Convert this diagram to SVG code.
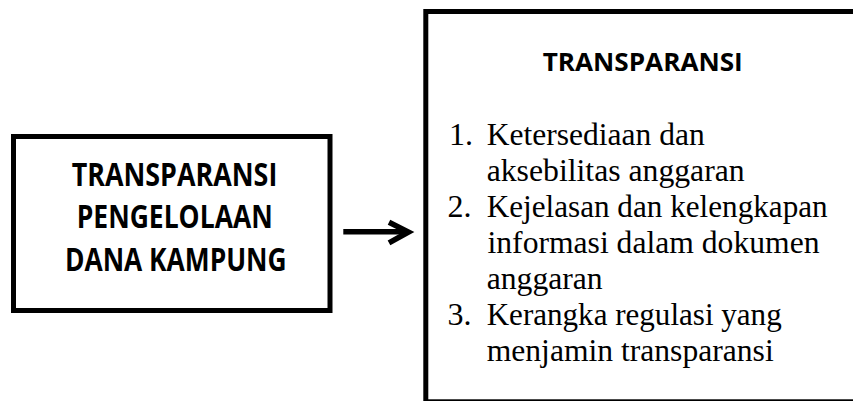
<svg xmlns="http://www.w3.org/2000/svg" width="853" height="401" viewBox="0 0 853 401">
<style>
.box{fill:#fff;stroke:#000;stroke-width:5}
.bold{font-family:"Open Sans","Liberation Sans",sans-serif;font-weight:bold;fill:#000}
.serif{font-family:"Liberation Serif","Times New Roman",serif;font-size:32px;fill:#000}
.conn{fill:none;stroke:#000;stroke-width:5.5}
</style>
<rect width="853" height="401" fill="#fff"/>
<g id="node-left">
<rect class="box" x="13.5" y="136.5" width="316.5" height="174"/>
<text class="bold" font-size="33" x="174.5" y="186" text-anchor="middle" textLength="205.6" lengthAdjust="spacingAndGlyphs">TRANSPARANSI</text>
<text class="bold" font-size="33" x="174.7" y="228.3" text-anchor="middle" textLength="196" lengthAdjust="spacingAndGlyphs">PENGELOLAAN</text>
<text class="bold" font-size="33" x="175.8" y="270.6" text-anchor="middle" textLength="221.7" lengthAdjust="spacingAndGlyphs">DANA KAMPUNG</text>
</g>
<g id="node-right">
<rect class="box" x="425.8" y="11.5" width="440" height="390.3"/>
<text class="bold" font-size="24.5" x="642.7" y="70.7" text-anchor="middle" textLength="200" lengthAdjust="spacingAndGlyphs">TRANSPARANSI</text>
<text class="serif" x="449" y="144.5">1.</text>
<text class="serif" x="486.7" y="144.5" textLength="218" lengthAdjust="spacingAndGlyphs">Ketersediaan dan</text>
<text class="serif" x="486.7" y="180.6" textLength="258" lengthAdjust="spacingAndGlyphs">aksebilitas anggaran</text>
<text class="serif" x="447.5" y="216.7">2.</text>
<text class="serif" x="486.7" y="216.7" textLength="341" lengthAdjust="spacingAndGlyphs">Kejelasan dan kelengkapan</text>
<text class="serif" x="487.5" y="252.8" textLength="332" lengthAdjust="spacingAndGlyphs">informasi dalam dokumen</text>
<text class="serif" x="486.7" y="288.9" textLength="116" lengthAdjust="spacingAndGlyphs">anggaran</text>
<text class="serif" x="447.5" y="325">3.</text>
<text class="serif" x="486.7" y="325" textLength="295" lengthAdjust="spacingAndGlyphs">Kerangka regulasi yang</text>
<text class="serif" x="486.7" y="361.1" textLength="287" lengthAdjust="spacingAndGlyphs">menjamin transparansi</text>
</g>
<g id="connectors">
<path class="conn" d="M343.3 231.7 H406"/>
<path class="conn" d="M389 222.2 L408.5 232 L389 242.8" stroke-linejoin="miter"/>
</g>
</svg>
